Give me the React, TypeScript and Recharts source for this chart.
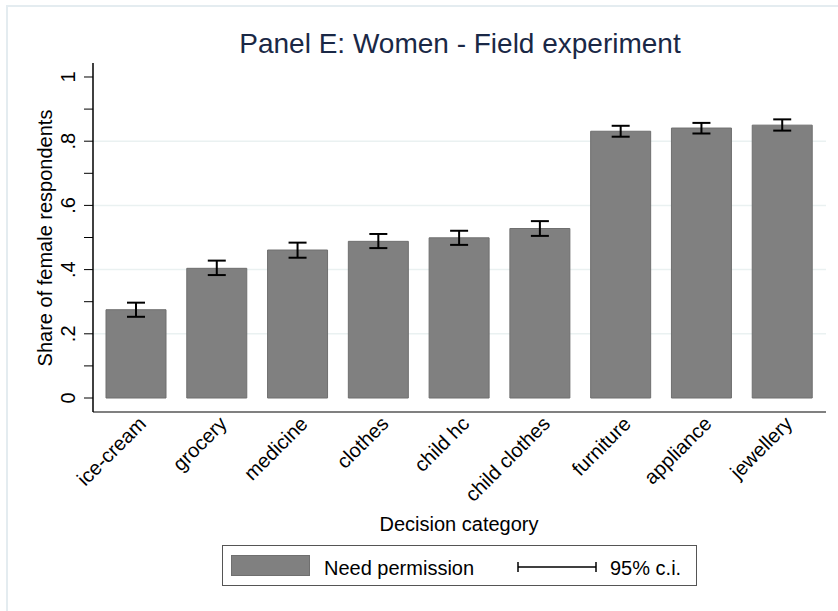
import React from 'react'
import { BarChart, Bar, XAxis, YAxis, ErrorBar, CartesianGrid } from 'recharts'

const categories = ['ice-cream', 'grocery', 'medicine', 'clothes', 'child hc', 'child clothes', 'furniture', 'appliance', 'jewellery']
const shares = [0.275, 0.404, 0.461, 0.488, 0.499, 0.528, 0.831, 0.841, 0.85]
const ciLow = [0.253, 0.383, 0.437, 0.467, 0.477, 0.505, 0.814, 0.824, 0.833]
const ciHigh = [0.297, 0.428, 0.484, 0.511, 0.521, 0.551, 0.848, 0.857, 0.868]
const yTicks = [0, 0.1, 0.2, 0.3, 0.4, 0.5, 0.6, 0.7, 0.8, 0.9, 1]
const yLabels: Record<string, string> = { '0': '0', '0.2': '.2', '0.4': '.4', '0.6': '.6', '0.8': '.8', '1': '1' }
const gridValues = [0.2, 0.4, 0.6, 0.8]

const data = categories.map((name, i) => ({
  name,
  share: shares[i],
  ci: [shares[i] - ciLow[i], ciHigh[i] - shares[i]],
}))

const FONT = '"Liberation Sans", Arial, sans-serif'

function YTick(props: any) {
  const { x, y, payload } = props
  const label = yLabels[String(Math.round(payload.value * 10) / 10)]
  if (label === undefined) return null
  return (
    <text x={x - 7} y={y} transform={`rotate(-90 ${x - 7} ${y})`} textAnchor="middle" fontSize={20} fill="#000" fontFamily={FONT}>
      {label}
    </text>
  )
}

function XTick(props: any) {
  const { x, y, payload } = props
  return (
    <text x={x + 11} y={y + 5} transform={`rotate(-45 ${x + 11} ${y + 5})`} textAnchor="end" fontSize={20} fill="#000" fontFamily={FONT}>
      {payload.value}
    </text>
  )
}

export default function App() {
  return (
    <div style={{ position: 'absolute', left: 0, top: 0, width: 838, height: 611, background: '#fff', fontFamily: FONT }}>
      <svg width={838} height={611} style={{ position: 'absolute', left: 0, top: 0 }}>
        <rect x={7} y={6} width={840} height={620} fill="none" stroke="#e4ecf0" strokeWidth={2} />
      </svg>
      <div style={{ position: 'absolute', left: 0, top: 0 }}>
        <BarChart width={838} height={611} data={data} margin={{ top: 63, right: 12, bottom: 0, left: 0 }}>
          <CartesianGrid vertical={false} horizontalValues={gridValues} stroke="#eaf1f1" strokeWidth={1.5} />
          <XAxis
            dataKey="name"
            interval={0}
            tickLine={false}
            axisLine={{ stroke: '#808080', strokeWidth: 2 }}
            padding={{ left: 3, right: 3 }}
            tick={<XTick />}
            height={199}
          />
          <YAxis
            type="number"
            domain={[-0.0436, 1.0436]}
            allowDataOverflow
            ticks={yTicks}
            interval={0}
            tickLine={{ stroke: '#000', strokeWidth: 1 }}
            tickSize={9}
            axisLine={{ stroke: '#000', strokeWidth: 1.5 }}
            tick={<YTick />}
            width={93}
          />
          <Bar dataKey="share" fill="#808080" stroke="#6f6f6f" strokeWidth={1} barSize={60} isAnimationActive={false}>
            <ErrorBar dataKey="ci" width={9} stroke="#000" strokeWidth={2} direction="y" />
          </Bar>
        </BarChart>
      </div>
      <svg width={838} height={611} style={{ position: 'absolute', left: 0, top: 0, pointerEvents: 'none' }}>
        <text x={460} y={53} textAnchor="middle" fontSize={28} fill="#1a2846" fontFamily={FONT}>
          Panel E: Women - Field experiment
        </text>
        <text x={459} y={531} textAnchor="middle" fontSize={20} fill="#000" fontFamily={FONT}>
          Decision category
        </text>
        <text x={52} y={238} transform="rotate(-90 52 238)" textAnchor="middle" fontSize={20} fill="#000" fontFamily={FONT}>
          Share of female respondents
        </text>
        <rect x={222.5} y={545.5} width={474} height={40} fill="#fff" stroke="#555" strokeWidth={1} />
        <rect x={231.5} y={555.5} width={78} height={20} fill="#808080" stroke="#6f6f6f" strokeWidth={1} />
        <text x={324} y={575} fontSize={20} fill="#000" fontFamily={FONT}>
          Need permission
        </text>
        <line x1={518} y1={567} x2={596} y2={567} stroke="#000" strokeWidth={1.5} />
        <line x1={518} y1={562} x2={518} y2={572} stroke="#000" strokeWidth={1.5} />
        <line x1={596} y1={562} x2={596} y2={572} stroke="#000" strokeWidth={1.5} />
        <text x={610} y={575} fontSize={20} fill="#000" fontFamily={FONT}>
          95% c.i.
        </text>
      </svg>
    </div>
  )
}
